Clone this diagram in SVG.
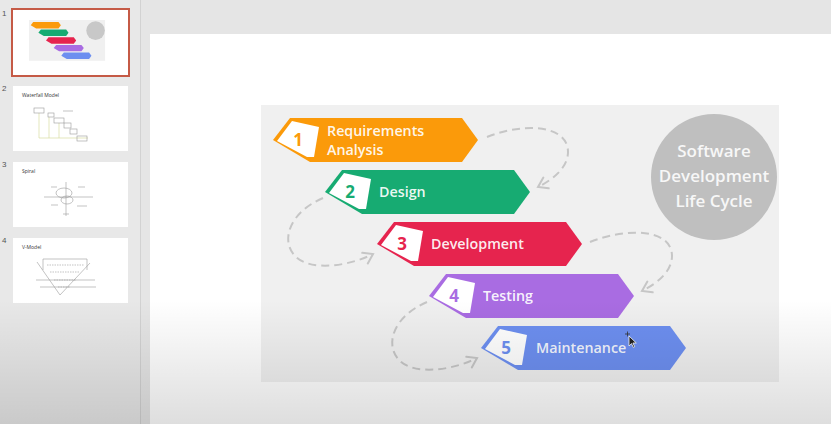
<svg xmlns="http://www.w3.org/2000/svg" xmlns:xlink="http://www.w3.org/1999/xlink" width="831" height="424" viewBox="0 0 831 424">
<style>
.lbl{font-family:"Open Sans","Noto Sans",sans-serif;font-weight:600;font-size:14.3px;fill:#ffffff;fill-opacity:0.93}
.num{font-family:"Open Sans","Noto Sans",sans-serif;font-weight:700;font-size:17px;text-anchor:middle}
.ctext{font-family:"Open Sans","Noto Sans",sans-serif;font-weight:600;font-size:17px;fill:#f7f7f7;text-anchor:middle}
.conn{fill:none;stroke:#c6c6c6;stroke-width:2;stroke-dasharray:8 5;marker-end:url(#arrow)}
.thumb{fill:#ffffff}
.tnum{font-family:"Liberation Sans",sans-serif;font-size:8px;fill:#555555}
.ttitle{font-family:"Open Sans",sans-serif;font-size:5px;fill:#333333}
.mini{fill:none;stroke:#9a9a9a;stroke-width:0.6}
.miniy{fill:none;stroke:#d8dca0;stroke-width:0.7}
</style>
<defs>
<path id="band" d="M0,0 L17,-22 L189,-22 L205,0 L189,22 L37,22 Z"/>
<path id="tag" d="M4,1 L19,-19 L46,-13 L41,17 L34,17 Z"/>
<marker id="arrow" viewBox="-12 -8 14 16" refX="0" refY="0" markerWidth="14" markerHeight="16" markerUnits="userSpaceOnUse" orient="auto">
<path d="M-9,-6 L0,0 L-9,6" fill="none" stroke="#c6c6c6" stroke-width="2" stroke-linecap="round"/>
</marker>
<linearGradient id="shade" x1="0" y1="0" x2="0" y2="1">
<stop offset="0" stop-color="#000" stop-opacity="0"/>
<stop offset="1" stop-color="#000" stop-opacity="0.13"/>
</linearGradient>
</defs>

<!-- app background -->
<rect x="0" y="0" width="831" height="424" fill="#e5e5e5"/>
<rect x="0" y="0" width="140" height="424" fill="#e8e8e8"/>
<line x1="140.5" y1="0" x2="140.5" y2="424" stroke="#d2d2d2" stroke-width="1"/>
<rect x="150" y="34" width="681" height="390" fill="#ffffff"/>

<!-- thumbnails -->
<g id="thumbnails">
<text class="tnum" x="2" y="16">1</text>
<text class="tnum" x="2" y="91">2</text>
<text class="tnum" x="2" y="167">3</text>
<text class="tnum" x="2" y="243">4</text>
<rect x="12" y="9" width="117" height="67" fill="#ffffff" stroke="#c55a46" stroke-width="2"/>
<g transform="translate(-9.4,4.6) scale(0.147)">
<rect x="261" y="105" width="518" height="277" fill="#f0f0f0"/>
<circle cx="714" cy="177" r="63" fill="#c8c8c8"/>
<use xlink:href="#band" x="273" y="140" fill="#fb9a0a"/>
<use xlink:href="#band" x="325" y="192" fill="#17ab72"/>
<use xlink:href="#band" x="377" y="244" fill="#e6244e"/>
<use xlink:href="#band" x="429" y="296" fill="#a96ce2"/>
<use xlink:href="#band" x="481" y="348" fill="#6d8ff0"/>
</g>
<rect class="thumb" x="13" y="86" width="115" height="65"/>
<text class="ttitle" x="22" y="97">Waterfall Model</text>
<g>
<path class="miniy" d="M39,113 V138 M49,117 V138 M59,123 V138 M39,138 H88"/>
<rect class="mini" x="34" y="108" width="10" height="5"/>
<rect class="mini" x="48" y="113" width="6" height="4"/>
<rect class="mini" x="54" y="118" width="10" height="5"/>
<rect class="mini" x="64" y="123" width="7" height="5"/>
<rect class="mini" x="70" y="129" width="7" height="5"/>
<rect class="mini" x="77" y="136" width="10" height="5"/>
<line class="mini" x1="63" y1="111" x2="73" y2="111"/>
</g>
<rect class="thumb" x="13" y="162" width="115" height="65"/>
<text class="ttitle" x="22" y="173">Spiral</text>
<g>
<path class="mini" d="M44,197 H93 M66,182 V216"/>
<ellipse class="mini" cx="64" cy="193" rx="8" ry="5"/>
<ellipse class="mini" cx="67" cy="200" rx="6" ry="4"/>
<path class="mini" d="M51,187 h6 M78,187 h7 M51,205 h7 M77,206 h10 M63,214 h6"/>
</g>
<rect class="thumb" x="13" y="238" width="115" height="65"/>
<text class="ttitle" x="22" y="249">V-Model</text>
<g>
<path class="mini" d="M43,259 H87 M37,262 L60,295 L90,263 M43,259 V270 M87,259 V270"/>
<path class="mini" stroke-dasharray="1.5 1" d="M47,265 H84 M50,272 H80 M54,280 H76 M58,287 H70"/>
<path class="mini" stroke="#c8d8c0" d="M36,280 H95 M40,287 H96"/>
</g>
</g>

<!-- slide diagram panel -->
<rect x="261" y="105" width="518" height="277" fill="#f0f0f0"/>

<g id="title-circle">
<circle cx="714" cy="177" r="63" fill="#bfbfbf"/>
<text class="ctext" x="714" y="157">Software</text>
<text class="ctext" x="714" y="182">Development</text>
<text class="ctext" x="714" y="207">Life Cycle</text>
</g>

<g id="connectors">
<path class="conn" d="M487,137 C525,122 568,125 568,152 C568,168 552,180 538,187"/>
<path class="conn" d="M323,198 C290,212 280,240 295,256 C310,272 350,266 373,254"/>
<path class="conn" d="M590,242 C628,227 672,229 672,256 C672,272 656,284 642,291"/>
<path class="conn" d="M427,302 C394,316 384,344 399,360 C414,376 454,370 477,358"/>
</g>

<g id="step1" transform="translate(273,140)">
<use xlink:href="#band" fill="#fb9a0a"/>
<use xlink:href="#tag" fill="#ffffff"/>
<text class="num" x="25" y="6" fill="#fb9a0a">1</text>
<text class="lbl" x="54" y="-4">Requirements</text>
<text class="lbl" x="54" y="15">Analysis</text>
</g>

<g id="step2" transform="translate(325,192)">
<use xlink:href="#band" fill="#17ab72"/>
<use xlink:href="#tag" fill="#ffffff"/>
<text class="num" x="25" y="6" fill="#17ab72">2</text>
<text class="lbl" x="54" y="5">Design</text>
</g>

<g id="step3" transform="translate(377,244)">
<use xlink:href="#band" fill="#e6244e"/>
<use xlink:href="#tag" fill="#ffffff"/>
<text class="num" x="25" y="6" fill="#e6244e">3</text>
<text class="lbl" x="54" y="5">Development</text>
</g>

<g id="step4" transform="translate(429,296)">
<use xlink:href="#band" fill="#a96ce2"/>
<use xlink:href="#tag" fill="#ffffff"/>
<text class="num" x="25" y="6" fill="#a96ce2">4</text>
<text class="lbl" x="54" y="5">Testing</text>
</g>

<g id="step5" transform="translate(481,348)">
<use xlink:href="#band" fill="#6d8ff0"/>
<use xlink:href="#tag" fill="#ffffff"/>
<text class="num" x="25" y="6" fill="#6d8ff0">5</text>
<text class="lbl" x="55" y="5">Maintenance</text>
</g>

<!-- mouse cursor -->
<g id="cursor">
<path d="M629,336 l0,10 l2.5,-2.4 l1.8,3.8 l1.4,-0.7 l-1.8,-3.7 l3.4,0 z" fill="#222" stroke="#fff" stroke-width="0.8"/>
<path d="M625,334 h5 M627.5,331.5 v5" stroke="#333" stroke-width="0.8"/>
</g>

<!-- bottom video shading -->
<rect x="0" y="300" width="831" height="124" fill="url(#shade)"/>
</svg>
